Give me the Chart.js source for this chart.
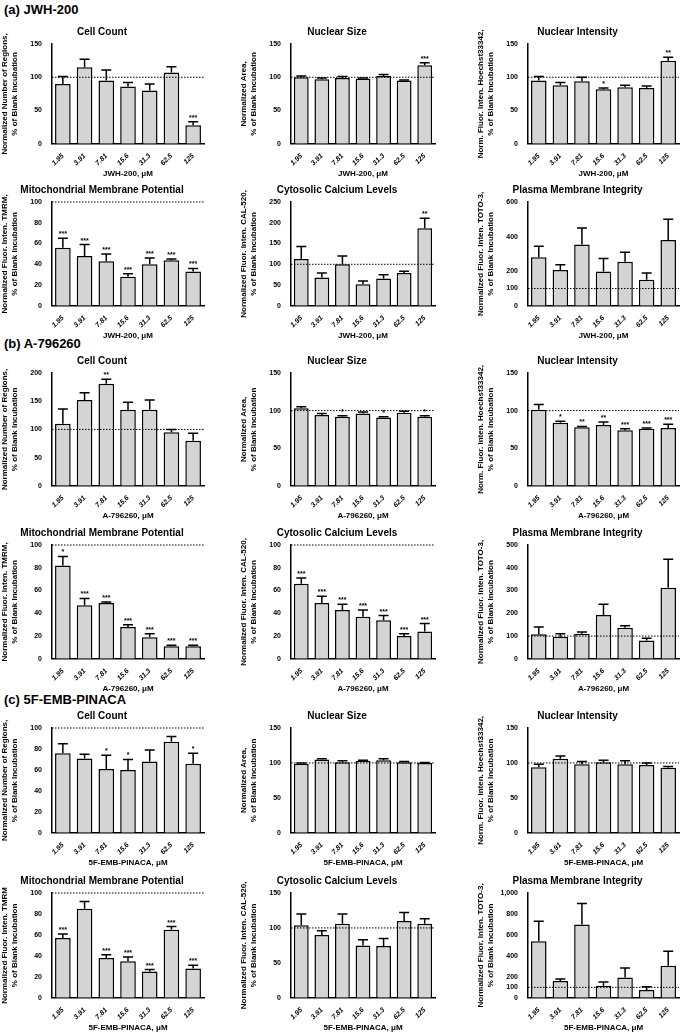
<!DOCTYPE html>
<html><head><meta charset="utf-8">
<script src="https://cdn.jsdelivr.net/npm/chart.js@4"></script>
<style>
body{margin:0;background:#fff;width:683px;height:1036px;position:relative;overflow:hidden;font-family:"Liberation Sans",Arial,sans-serif}
.hdr{position:absolute;left:4px;font-weight:bold;font-size:13px}
.box{position:absolute}
</style></head><body>
<div class="hdr" style="top:2px">(a) JWH-200</div>
<div class="hdr" style="top:336px">(b) A-796260</div>
<div class="hdr" style="top:692px">(c) 5F-EMB-PINACA</div>
<script>
// concentrations, µM
const doses = ['1.95', '3.91', '7.81', '15.6', '31.3', '62.5', '125'];

// (a) JWH-200
const aCellMean = [90, 115, 95, 86, 80, 107, 28];
const aCellErr = [11, 12, 16, 6, 10, 9, 5];
const aCellSig = ['', '', '', '', '', '', '***'];
const aSizeMean = [100, 97, 99, 98, 102, 95, 118];
const aSizeErr = [2, 2, 2, 1, 2, 1, 4];
const aSizeSig = ['', '', '', '', '', '', '***'];
const aIntMean = [95, 88, 94, 82, 85, 84, 125];
const aIntErr = [6, 4, 6, 2, 3, 3, 5];
const aIntSig = ['', '', '', '*', '', '', '**'];
const aMmpMean = [56, 48, 43, 28, 40, 44, 33];
const aMmpErr = [9, 11, 7, 3, 6, 1, 3];
const aMmpSig = ['***', '***', '***', '***', '***', '***', '***'];
const aCaMean = [113, 68, 100, 52, 66, 79, 187];
const aCaErr = [30, 11, 20, 8, 9, 4, 24];
const aCaSig = ['', '', '', '', '', '', '**'];
const aPmMean = [280, 207, 355, 198, 255, 150, 380];
const aPmErr = [65, 30, 95, 75, 55, 40, 120];

// (b) A-796260
const bCellMean = [110, 152, 181, 135, 135, 95, 80];
const bCellErr = [26, 13, 8, 13, 17, 5, 13];
const bCellSig = ['', '', '**', '', '', '', ''];
const bSizeMean = [103, 94, 92, 96, 91, 97, 92];
const bSizeErr = [2, 2, 1, 2, 1, 2, 1];
const bSizeSig = ['', '', '*', '', '*', '', '*'];
const bIntMean = [101, 84, 78, 81, 74, 76, 77];
const bIntErr = [7, 2, 1, 4, 2, 1, 5];
const bIntSig = ['', '*', '**', '**', '***', '***', '***'];
const bMmpMean = [82, 47, 49, 28, 19, 11, 11];
const bMmpErr = [8, 6, 1, 2, 3, 1, 1];
const bMmpSig = ['*', '***', '***', '***', '***', '***', '***'];
const bCaMean = [66, 49, 43, 37, 34, 20, 24];
const bCaErr = [5, 6, 5, 6, 4, 2, 7];
const bCaSig = ['***', '***', '***', '***', '***', '***', '***'];
const bPmMean = [108, 97, 110, 193, 137, 80, 312];
const bPmErr = [32, 13, 8, 47, 8, 10, 125];

// (c) 5F-EMB-PINACA
const cCellMean = [76, 71, 61, 60, 68, 87, 66];
const cCellErr = [9, 4, 13, 10, 11, 5, 10];
const cCellSig = ['', '', '*', '*', '', '', '*'];
const cSizeMean = [99, 105, 101, 103, 104, 101, 100];
const cSizeErr = [1, 1, 2, 1, 2, 1, 0.5];
const cIntMean = [94, 106, 98, 101, 98, 97, 93];
const cIntErr = [4, 4, 4, 3, 5, 3, 2];
const cMmpMean = [57, 85, 38, 35, 25, 65, 28];
const cMmpErr = [4, 7, 3, 4, 2, 3, 3];
const cMmpSig = ['***', '', '***', '***', '***', '***', '***'];
const cCaMean = [104, 90, 106, 75, 74, 110, 106];
const cCaErr = [16, 6, 14, 8, 11, 12, 7];
const cPmMean = [540, 160, 700, 115, 195, 75, 305];
const cPmErr = [190, 20, 200, 35, 90, 30, 140];

const none = ['', '', '', '', '', '', ''];
const blank = '% of Blank Incubation';
const FONT = '"Liberation Sans", Arial, sans-serif';

// upward error bars, significance stars and the dotted 100% line
const extras = {
  id: 'extras',
  afterDatasetsDraw(chart, args, opts) {
    const ctx = chart.ctx, y = chart.scales.y, area = chart.chartArea;
    const meta = chart.getDatasetMeta(0);
    ctx.save();
    ctx.strokeStyle = '#000';
    ctx.setLineDash([1.5, 1.5]);
    ctx.lineWidth = 1;
    const yr = y.getPixelForValue(100);
    ctx.beginPath(); ctx.moveTo(area.left, yr); ctx.lineTo(area.right, yr); ctx.stroke();
    ctx.setLineDash([]);
    ctx.lineWidth = 1.5;
    ctx.fillStyle = '#000';
    ctx.font = 'bold 7px ' + FONT;
    ctx.textAlign = 'center';
    meta.data.forEach((bar, i) => {
      const top = y.getPixelForValue(opts.mean[i] + opts.err[i]);
      ctx.beginPath();
      ctx.moveTo(bar.x, bar.y); ctx.lineTo(bar.x, top);
      ctx.moveTo(bar.x - 5, top); ctx.lineTo(bar.x + 5, top);
      ctx.stroke();
      if (opts.sig[i]) ctx.fillText(opts.sig[i], bar.x, top - 2);
    });
    ctx.restore();
  }
};

function panel(left, top, w, h, title, yTitle, xTitle, mean, err, sig, max, ticks) {
  const div = document.createElement('div');
  div.className = 'box';
  div.style.cssText = `left:${left}px;top:${top}px;width:${w}px;height:${h}px`;
  const cv = document.createElement('canvas');
  div.appendChild(cv);
  document.body.appendChild(div);
  new Chart(cv, {
    type: 'bar',
    data: { labels: doses, datasets: [{ data: mean, backgroundColor: '#d4d4d4', borderColor: '#000', borderWidth: 1.5, barPercentage: 0.72, categoryPercentage: 1 }] },
    options: {
      responsive: true, maintainAspectRatio: false, animation: false,
      layout: { padding: { right: 4 } },
      plugins: {
        legend: { display: false }, tooltip: { enabled: false },
        title: { display: true, text: title, color: '#000', font: { family: FONT, size: 10, weight: 'bold' }, padding: { top: 0, bottom: 6 } },
        extras: { mean, err, sig }
      },
      scales: {
        x: {
          grid: { display: false },
          border: { color: '#000', width: 1.5 },
          ticks: { color: '#000', maxRotation: 45, minRotation: 45, padding: 0, font: { family: FONT, size: 7, weight: 'bold', style: 'italic' } },
          title: { display: true, text: xTitle, color: '#000', padding: { top: 2, bottom: 0 }, font: { family: FONT, size: 8, weight: 'bold' } }
        },
        y: {
          min: 0, max,
          grid: { display: false, drawTicks: true },
          border: { color: '#000', width: 1.5 },
          afterBuildTicks: s => { s.ticks = ticks.map(v => ({ value: v })); },
          afterFit: s => { s.width = 52; },
          ticks: { color: '#000', padding: 2, font: { family: FONT, size: 7, weight: 'bold' } },
          title: { display: true, text: yTitle, color: '#000', padding: 0, font: { family: FONT, size: 8, weight: 'bold' } }
        }
      }
    },
    plugins: [extras]
  });
}

const cols = [[0, 208], [239, 200], [476, 207]];
const t150 = [0, 50, 100, 150], t100 = [0, 20, 40, 60, 80, 100];
function row(top, h, x, specs) {
  specs.forEach((s, i) => panel(cols[i][0], top, cols[i][1], h, s[0], s[1], x, s[2], s[3], s[4], s[5], s[6]));
}
const cellY = ['Normalized Number of Regions,', blank];
const sizeY = ['Normalized Area,', blank];
const intY = ['Norm. Fluor. Inten. Hoechst33342,', blank];
const mmpY = ['Normalized Fluor. Inten. TMRM,', blank];
const caY = ['Normalized Fluor. Inten. CAL-520,', blank];
const pmY = ['Normalized Fluor. Inten. TOTO-3,', blank];

row(26, 153, 'JWH-200, μM', [
  ['Cell Count', cellY, aCellMean, aCellErr, aCellSig, 150, t150],
  ['Nuclear Size', sizeY, aSizeMean, aSizeErr, aSizeSig, 150, t150],
  ['Nuclear Intensity', intY, aIntMean, aIntErr, aIntSig, 150, t150]]);
row(184, 157, 'JWH-200, μM', [
  ['Mitochondrial Membrane Potential', mmpY, aMmpMean, aMmpErr, aMmpSig, 100, t100],
  ['Cytosolic Calcium Levels', caY, aCaMean, aCaErr, aCaSig, 250, [0, 50, 100, 150, 200, 250]],
  ['Plasma Membrane Integrity', pmY, aPmMean, aPmErr, none, 600, [0, 100, 200, 400, 600]]]);
row(355, 166, 'A-796260, μM', [
  ['Cell Count', cellY, bCellMean, bCellErr, bCellSig, 200, [0, 50, 100, 150, 200]],
  ['Nuclear Size', sizeY, bSizeMean, bSizeErr, bSizeSig, 150, t150],
  ['Nuclear Intensity', intY, bIntMean, bIntErr, bIntSig, 150, t150]]);
row(527, 167, 'A-796260, μM', [
  ['Mitochondrial Membrane Potential', mmpY, bMmpMean, bMmpErr, bMmpSig, 100, t100],
  ['Cytosolic Calcium Levels', caY, bCaMean, bCaErr, bCaSig, 100, t100],
  ['Plasma Membrane Integrity', pmY, bPmMean, bPmErr, none, 500, [0, 100, 200, 300, 400, 500]]]);
row(710, 158, '5F-EMB-PINACA, μM', [
  ['Cell Count', cellY, cCellMean, cCellErr, cCellSig, 100, t100],
  ['Nuclear Size', sizeY, cSizeMean, cSizeErr, none, 150, t150],
  ['Nuclear Intensity', intY, cIntMean, cIntErr, none, 150, t150]]);
row(875, 158, '5F-EMB-PINACA, μM', [
  ['Mitochondrial Membrane Potential', ['Normalized Fluor. Inten. TMRM', blank], cMmpMean, cMmpErr, cMmpSig, 100, t100],
  ['Cytosolic Calcium Levels', caY, cCaMean, cCaErr, none, 150, t150],
  ['Plasma Membrane Integrity', pmY, cPmMean, cPmErr, none, 1000, [0, 100, 200, 400, 600, 800, 1000]]]);
</script>
</body></html>
